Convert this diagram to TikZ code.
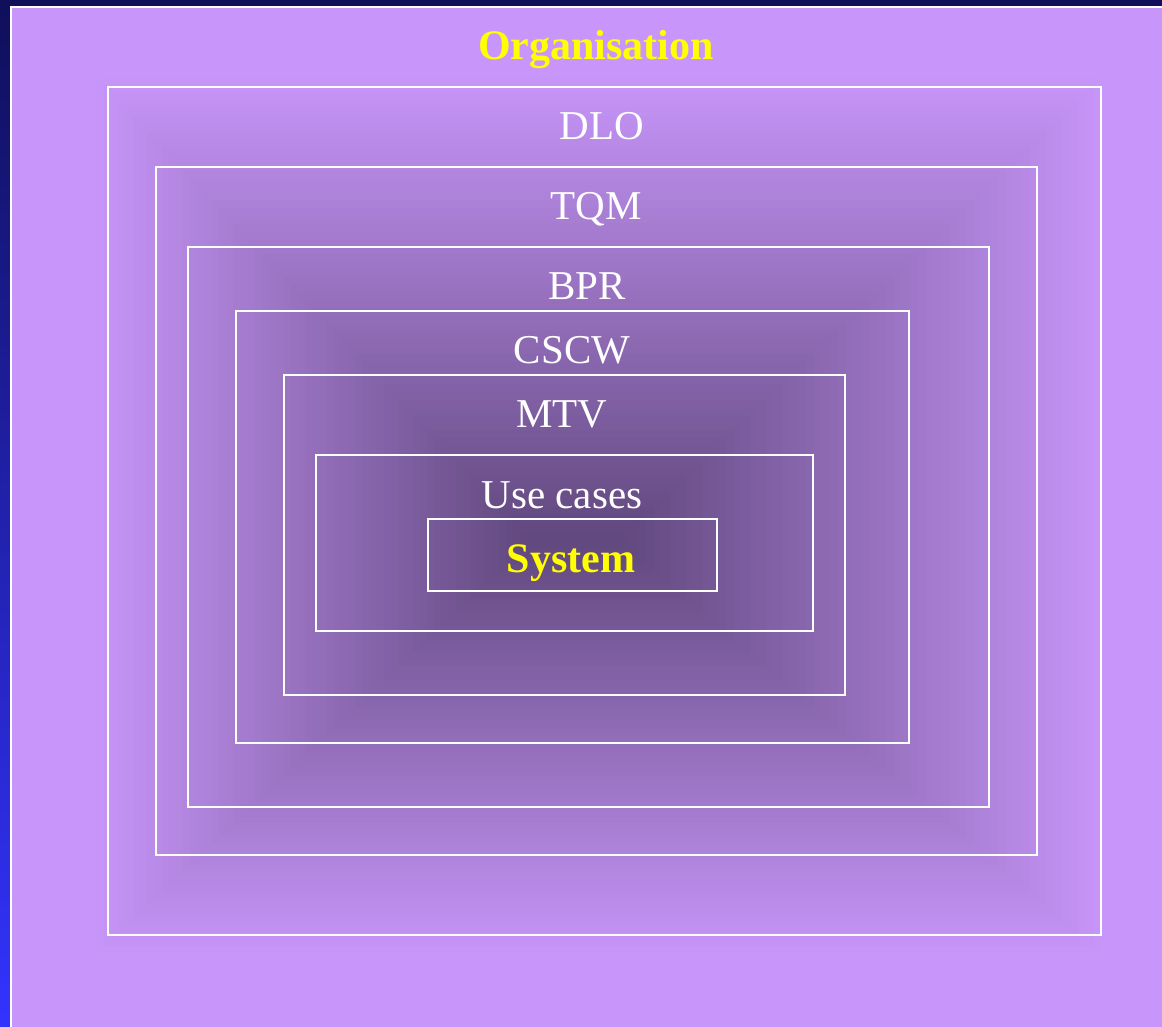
\documentclass[tikz,border=0pt]{standalone}
\usepackage{fontspec}
\setmainfont{Liberation Serif}
\usetikzlibrary{positioning}

\definecolor{navytop}{HTML}{0F0F5A}
\definecolor{bluebot}{HTML}{3333FF}
\definecolor{lilac}{HTML}{C896FA}
\definecolor{plum}{HTML}{62497F}
\definecolor{lemon}{HTML}{FFFF00}

\begin{document}
\begin{tikzpicture}[
    x=1pt, y=-1pt,
    frame/.style={draw=white, line width=2pt},
    ringlabel/.style={text=white, anchor=base, inner sep=0pt, font=\fontsize{41}{49}\selectfont},
    headline/.style={text=lemon, anchor=base, inner sep=0pt, font=\bfseries\fontsize{42}{50}\selectfont}
]

\useasboundingbox (0,0) rectangle (1162,1027);

% backdrop
\shade[top color=navytop, bottom color=bluebot] (0,0) rectangle (1162,1027);
\fill[lilac] (11,7) rectangle (1180,1040);

% pyramid shading, light at the rim, dark in the middle
\foreach \i in {0,...,60}{
  \pgfmathsetmacro{\t}{\i/60}
  \pgfmathsetmacro{\p}{100*\t}
  \fill[plum!\p!lilac] ({90+430*\t},{70+460*\t}) rectangle ({1110-480*\t},{960-410*\t});
}

\draw[frame] (11,7) rectangle (1180,1040);

% nested frames
\draw[frame] (108,87) rectangle (1101,935);   % DLO
\draw[frame] (156,167) rectangle (1037,855);  % TQM
\draw[frame] (188,247) rectangle (989,807);   % BPR
\draw[frame] (236,311) rectangle (909,743);   % CSCW
\draw[frame] (284,375) rectangle (845,695);   % MTV
\draw[frame] (316,455) rectangle (813,631);   % Use cases
\draw[frame] (428,519) rectangle (717,591);   % System

% labels
\node[headline] (org) at (596,60) {Organisation};
\node[ringlabel] (dlo) at (602,140) {DLO};
\node[ringlabel] (tqm) at (596,220) {TQM};
\node[ringlabel] (bpr) at (587,299) {BPR};
\node[ringlabel] (cscw) at (572,363) {CSCW};
\node[ringlabel] (mtv) at (562,427) {MTV};
\node[ringlabel] (usecases) at (562,508) {Use cases};
\node[headline] (system) at (571,572) {System};

\end{tikzpicture}
\end{document}
